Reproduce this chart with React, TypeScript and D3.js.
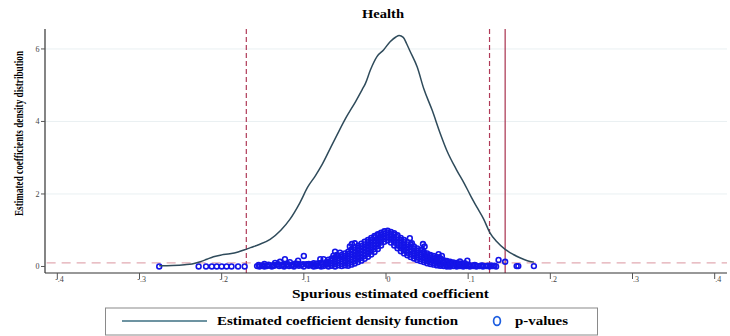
import { useEffect, useRef } from "react"
import * as d3 from "d3"

// kernel density of the spurious estimated coefficients
const densityCoef = [
  -0.276, -0.26, -0.245, -0.236, -0.226, -0.218, -0.21, -0.2, -0.19, -0.18, -0.172, -0.165, -0.155,
  -0.141, -0.128, -0.117, -0.105, -0.095, -0.086, -0.078, -0.068, -0.058, -0.048, -0.037, -0.029,
  -0.025, -0.019, -0.011, -0.003, 0.005, 0.012, 0.016, 0.021, 0.025, 0.029, 0.038, 0.046, 0.056,
  0.066, 0.074, 0.086, 0.095, 0.103, 0.111, 0.119, 0.126, 0.135, 0.145, 0.155, 0.163, 0.172, 0.18,
]
const densityValue = [
  0.02, 0.03, 0.05, 0.07, 0.13, 0.2, 0.27, 0.32, 0.35, 0.4, 0.46, 0.52, 0.6,
  0.75, 1.0, 1.3, 1.75, 2.2, 2.5, 2.8, 3.25, 3.7, 4.13, 4.55, 4.88,
  5.05, 5.42, 5.79, 5.97, 6.2, 6.33, 6.37, 6.32, 6.15, 5.95, 5.5, 4.9, 4.32,
  3.67, 3.2, 2.66, 2.3, 1.95, 1.62, 1.3, 0.95, 0.68, 0.47, 0.33, 0.24, 0.16, 0.12,
]

// p-values: isolated points on the left tail and the low band
const pvalTail: [number, number][] = [
  [-0.276, 0], [-0.228, 0], [-0.219, 0], [-0.212, 0], [-0.206, 0], [-0.2, 0], [-0.194, 0],
  [-0.188, 0], [-0.18, 0], [-0.172, 0],
  [-0.157, 0.01], [-0.154, 0], [-0.151, 0.02], [-0.148, 0], [-0.148, 0.07], [-0.145, 0.01],
  [-0.142, 0.03], [-0.139, 0], [-0.136, 0.02], [-0.133, 0.05], [-0.13, 0.01], [-0.127, 0.03],
  [-0.124, 0], [-0.121, 0.04], [-0.118, 0.01], [-0.115, 0.03], [-0.112, 0], [-0.109, 0.05],
  [-0.106, 0.02], [-0.103, 0.04], [-0.1, 0], [-0.097, 0.06], [-0.094, 0.02], [-0.094, 0.07],
  [-0.091, 0.04], [-0.088, 0], [-0.088, 0.09], [-0.085, 0.07], [-0.085, 0.01], [-0.082, 0.03],
  [-0.079, 0.1], [-0.079, 0], [-0.076, 0.01], [-0.073, 0.05], [-0.073, 0.12],
  [-0.155, 0.04], [-0.149, 0.03], [-0.143, 0.05], [-0.137, 0.04], [-0.131, 0.06],
  [-0.125, 0.05], [-0.119, 0.06], [-0.113, 0.05], [-0.107, 0.07], [-0.101, 0.06],
  [-0.095, 0.04], [-0.09, 0.06], [-0.083, 0.08], [-0.077, 0.06], [-0.071, 0.09],
  [0.098, 0.01], [0.098, 0.04], [0.102, 0], [0.102, 0.03], [0.106, 0.01], [0.106, 0.03],
  [0.11, 0], [0.11, 0.02], [0.114, 0.01], [0.118, 0], [0.118, 0.02], [0.122, 0.01],
  [0.126, 0], [0.13, 0.01], [0.134, 0], [0.1, 0.05], [0.108, 0.04], [0.116, 0.03],
  [0.124, 0.02], [0.128, 0.03], [0.132, 0.02],
  [0.159, 0.01], [0.161, 0.01], [0.18, 0.01],
]

// p-values in the dense triangle, grouped by coefficient
const pvalBand: [number, number[]][] = [
  [-0.07, [0, 0.06, 0.13, 0.19]],
  [-0.066, [0.02, 0.09, 0.16, 0.22]],
  [-0.062, [0, 0.07, 0.14, 0.2, 0.25]],
  [-0.058, [0.03, 0.1, 0.17, 0.23, 0.29]],
  [-0.054, [0.01, 0.07, 0.14, 0.21, 0.27, 0.32]],
  [-0.05, [0.03, 0.1, 0.17, 0.24, 0.3, 0.36]],
  [-0.046, [0.02, 0.08, 0.15, 0.22, 0.29, 0.35, 0.41]],
  [-0.042, [0.05, 0.12, 0.19, 0.26, 0.33, 0.4, 0.47]],
  [-0.038, [0.08, 0.15, 0.22, 0.3, 0.38, 0.45, 0.52]],
  [-0.034, [0.12, 0.2, 0.28, 0.36, 0.44, 0.51, 0.57]],
  [-0.03, [0.16, 0.24, 0.32, 0.4, 0.48, 0.56, 0.63]],
  [-0.026, [0.21, 0.29, 0.37, 0.45, 0.53, 0.61, 0.68]],
  [-0.022, [0.27, 0.35, 0.43, 0.51, 0.59, 0.67, 0.73]],
  [-0.018, [0.33, 0.41, 0.5, 0.58, 0.66, 0.73, 0.79]],
  [-0.014, [0.4, 0.48, 0.57, 0.65, 0.73, 0.8, 0.84]],
  [-0.01, [0.48, 0.56, 0.64, 0.72, 0.8, 0.86, 0.89]],
  [-0.006, [0.58, 0.66, 0.74, 0.82, 0.88, 0.93]],
  [-0.002, [0.68, 0.76, 0.84, 0.91, 0.97]],
  [0.002, [0.72, 0.8, 0.88, 0.94, 0.99]],
  [0.006, [0.66, 0.74, 0.82, 0.89, 0.95]],
  [0.01, [0.58, 0.66, 0.74, 0.82, 0.88, 0.92]],
  [0.014, [0.5, 0.58, 0.66, 0.74, 0.81, 0.86]],
  [0.018, [0.42, 0.5, 0.58, 0.66, 0.73, 0.79]],
  [0.022, [0.36, 0.44, 0.52, 0.6, 0.67, 0.73]],
  [0.026, [0.31, 0.38, 0.46, 0.54, 0.61, 0.67]],
  [0.03, [0.26, 0.33, 0.41, 0.48, 0.55, 0.61]],
  [0.034, [0.22, 0.29, 0.36, 0.43, 0.5, 0.55]],
  [0.038, [0.18, 0.25, 0.32, 0.38, 0.44, 0.5]],
  [0.042, [0.15, 0.21, 0.27, 0.33, 0.39, 0.45]],
  [0.046, [0.12, 0.18, 0.24, 0.3, 0.35, 0.4]],
  [0.05, [0.09, 0.15, 0.21, 0.26, 0.31, 0.36]],
  [0.054, [0.07, 0.12, 0.18, 0.23, 0.28, 0.32]],
  [0.058, [0.05, 0.1, 0.15, 0.2, 0.25, 0.29]],
  [0.062, [0.03, 0.08, 0.13, 0.18, 0.22, 0.26]],
  [0.066, [0.02, 0.06, 0.11, 0.16, 0.2]],
  [0.07, [0.01, 0.05, 0.09, 0.13, 0.17]],
  [0.074, [0, 0.04, 0.08, 0.12, 0.15]],
  [0.078, [0, 0.03, 0.07, 0.1, 0.13]],
  [0.082, [0.01, 0.05, 0.08, 0.11]],
  [0.086, [0, 0.04, 0.07, 0.1]],
  [0.09, [0.01, 0.03, 0.06, 0.08]],
  [0.094, [0, 0.03, 0.06]],
]

// scattered p-values above the band
const pvalOutliers: [number, number][] = [
  [-0.135, 0.1], [-0.129, 0.13], [-0.123, 0.2], [-0.117, 0.12], [-0.11, 0.08], [-0.107, 0.16],
  [-0.1, 0.29], [-0.08, 0.2], [-0.076, 0.2], [-0.064, 0.3], [-0.062, 0.41], [-0.06, 0.32],
  [-0.056, 0.38], [-0.044, 0.55], [-0.0415, 0.62], [-0.038, 0.64],
  [0.029, 0.78], [0.0315, 0.64], [0.045, 0.62], [0.047, 0.55], [0.044, 0.47], [0.064, 0.34],
  [0.068, 0.29], [0.066, 0.23], [0.09, 0.14], [0.099, 0.16], [0.096, 0.09],
  [0.137, 0.18], [0.145, 0.13],
]

const yTicks = [0, 2, 4, 6]
const xTicks = [-0.4, -0.3, -0.2, -0.1, 0, 0.1, 0.2, 0.3, 0.4]
const xTickLabels = ["-.4", "-.3", "-.2", "-.1", "0", ".1", ".2", ".3", ".4"]
const dashedCoefs = [-0.17, 0.126]
const solidCoef = 0.145
const pThreshold = 0.1

export default function App() {
  const svgRef = useRef<SVGSVGElement>(null)

  useEffect(() => {
    const svg = d3.select(svgRef.current)
    svg.selectAll("*").remove()

    const width = 730
    const height = 336
    const serif = "'Liberation Serif', 'Times New Roman', serif"

    const x = d3.scaleLinear().domain([-0.415, 0.415]).range([45, 727])
    const y = d3.scaleLinear().domain([-0.18, 6.55]).range([273, 29])

    svg.attr("width", width).attr("height", height).style("display", "block")
    svg.append("rect").attr("width", width).attr("height", height).attr("fill", "white")

    // gridlines
    svg.selectAll(".grid")
      .data(yTicks.filter(d => d > 0))
      .enter()
      .append("line")
      .attr("x1", x(-0.415)).attr("x2", x(0.415))
      .attr("y1", d => y(d)).attr("y2", d => y(d))
      .attr("stroke", "#e9f0f2")
      .attr("stroke-width", 1)

    // threshold lines
    svg.append("line")
      .attr("x1", x(-0.413)).attr("x2", x(0.415))
      .attr("y1", y(pThreshold)).attr("y2", y(pThreshold))
      .attr("stroke", "#e2aab2")
      .attr("stroke-width", 1.2)
      .attr("stroke-dasharray", "9,6")

    svg.selectAll(".vdash")
      .data(dashedCoefs)
      .enter()
      .append("line")
      .attr("x1", d => x(d)).attr("x2", d => x(d))
      .attr("y1", y(6.55)).attr("y2", y(-0.18))
      .attr("stroke", "#b03a58")
      .attr("stroke-width", 1.2)
      .attr("stroke-dasharray", "5,3")

    svg.append("line")
      .attr("x1", x(solidCoef)).attr("x2", x(solidCoef))
      .attr("y1", y(6.55)).attr("y2", y(-0.18))
      .attr("stroke", "#a8304e")
      .attr("stroke-width", 1.2)

    // p-value circles
    const points: [number, number][] = [
      ...pvalTail,
      ...pvalBand.flatMap(([c, ps]) => ps.map(p => [c, p] as [number, number])),
      ...pvalOutliers,
    ]
    svg.append("g")
      .selectAll("circle")
      .data(points)
      .enter()
      .append("circle")
      .attr("cx", d => x(d[0]))
      .attr("cy", d => y(d[1]))
      .attr("r", 2.4)
      .attr("fill", "none")
      .attr("stroke", "#1414e8")
      .attr("stroke-width", 1.6)

    // density curve
    const line = d3.line<number>()
      .x((_, i) => x(densityCoef[i]))
      .y(d => y(d))
      .curve(d3.curveMonotoneX)
    svg.append("path")
      .attr("d", line(densityValue))
      .attr("fill", "none")
      .attr("stroke", "#2f4b5b")
      .attr("stroke-width", 1.5)

    // axes
    svg.append("line")
      .attr("x1", 45).attr("x2", 45)
      .attr("y1", y(6.55)).attr("y2", y(-0.18))
      .attr("stroke", "#333").attr("stroke-width", 1.2)
    svg.append("line")
      .attr("x1", 45).attr("x2", x(0.415))
      .attr("y1", y(-0.18)).attr("y2", y(-0.18))
      .attr("stroke", "#333").attr("stroke-width", 1.2)

    const yt = svg.selectAll(".ytick").data(yTicks).enter().append("g")
    yt.append("line")
      .attr("x1", 41).attr("x2", 45)
      .attr("y1", d => y(d)).attr("y2", d => y(d))
      .attr("stroke", "#555")
    yt.append("text")
      .attr("x", 39.5)
      .attr("y", d => y(d))
      .attr("dy", "0.35em")
      .attr("text-anchor", "end")
      .attr("font-family", serif)
      .attr("font-size", "8px")
      .attr("fill", "#444")
      .text(d => String(d))

    const xt = svg.selectAll(".xtick").data(xTicks).enter().append("g")
    xt.append("line")
      .attr("x1", d => x(d)).attr("x2", d => x(d))
      .attr("y1", y(-0.18)).attr("y2", y(-0.18) + 6)
      .attr("stroke", "#555")
    xt.append("text")
      .attr("x", d => x(d) + (d < 0 ? -2.2 : 0.6))
      .attr("y", y(-0.18) + 8.5)
      .attr("font-family", serif)
      .attr("font-size", "8px")
      .attr("fill", "#444")
      .text((_, i) => xTickLabels[i])

    // titles
    svg.append("text")
      .attr("x", 383).attr("y", 17.5)
      .attr("text-anchor", "middle")
      .attr("font-family", serif)
      .attr("font-weight", "bold")
      .attr("font-size", "12px")
      .attr("textLength", 42)
      .attr("lengthAdjust", "spacingAndGlyphs")
      .text("Health")

    svg.append("text")
      .attr("x", 390.5).attr("y", 297.5)
      .attr("text-anchor", "middle")
      .attr("font-family", serif)
      .attr("font-weight", "bold")
      .attr("font-size", "11.5px")
      .attr("textLength", 197)
      .attr("lengthAdjust", "spacingAndGlyphs")
      .text("Spurious estimated coefficient")

    svg.append("text")
      .attr("transform", "translate(22.5,133.5) rotate(-90)")
      .attr("text-anchor", "middle")
      .attr("font-family", serif)
      .attr("font-weight", "bold")
      .attr("font-size", "13px")
      .attr("textLength", 165)
      .attr("lengthAdjust", "spacingAndGlyphs")
      .text("Estimated coefficients density distribution")

    // legend
    const legend = svg.append("g")
    legend.append("rect")
      .attr("x", 105.5).attr("y", 308)
      .attr("width", 492).attr("height", 27)
      .attr("fill", "white")
      .attr("stroke", "#8a8a8a")
      .attr("stroke-width", 1)
    legend.append("line")
      .attr("x1", 122).attr("x2", 207)
      .attr("y1", 321).attr("y2", 321)
      .attr("stroke", "#3d6f82")
      .attr("stroke-width", 1.5)
    legend.append("text")
      .attr("x", 217).attr("y", 325)
      .attr("font-family", serif)
      .attr("font-weight", "bold")
      .attr("font-size", "11.5px")
      .attr("textLength", 241)
      .attr("lengthAdjust", "spacingAndGlyphs")
      .text("Estimated coefficient density function")
    legend.append("ellipse")
      .attr("cx", 497).attr("cy", 321)
      .attr("rx", 3.4).attr("ry", 4.4)
      .attr("fill", "none")
      .attr("stroke", "#1f5fe0")
      .attr("stroke-width", 1.7)
    legend.append("text")
      .attr("x", 515).attr("y", 325)
      .attr("font-family", serif)
      .attr("font-weight", "bold")
      .attr("font-size", "11.5px")
      .attr("textLength", 53)
      .attr("lengthAdjust", "spacingAndGlyphs")
      .text("p-values")
  }, [])

  return (
    <div>
      <style>{`body{margin:0}`}</style>
      <svg ref={svgRef}></svg>
    </div>
  )
}
